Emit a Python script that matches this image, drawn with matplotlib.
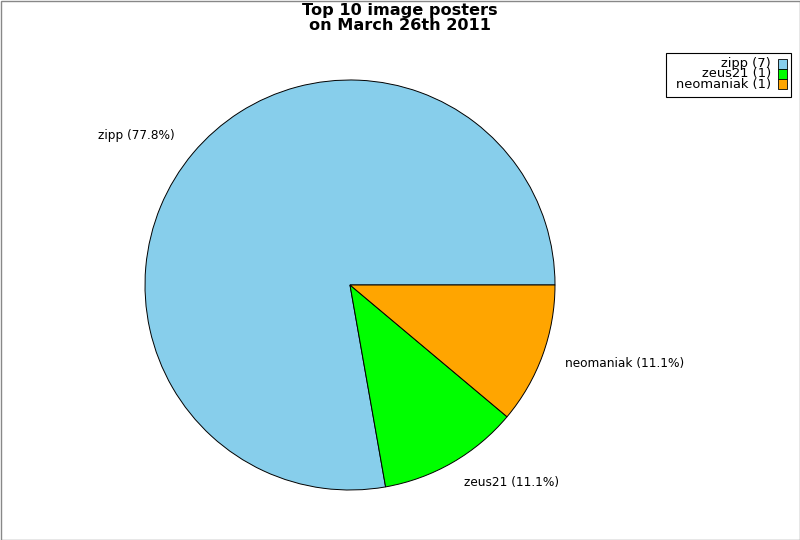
import matplotlib
matplotlib.use("Agg")
import matplotlib.pyplot as plt
from matplotlib.patches import Rectangle

# --- data ---
posters = ["zipp", "zeus21", "neomaniak"]
counts = [7, 1, 1]
colors = ["#87CEEB", "#00FF00", "#FFA500"]
title_lines = ["Top 10 image posters", "on March 26th 2011"]

total = sum(counts)
pie_labels = [f"{n} ({100.0 * c / total:.1f}%)" for n, c in zip(posters, counts)]
legend_labels = [f"{n} ({c})" for n, c in zip(posters, counts)]

W, H = 800, 540
fig = plt.figure(figsize=(W / 100, H / 100), dpi=100)
fig.patch.set_facecolor("white")

# figure frame
fig.add_artist(Rectangle((0.5 / W, 0.5 / H), 1 - 1.0 / W, 1 - 1.0 / H,
                         transform=fig.transFigure, fill=False,
                         edgecolor="#888888", linewidth=1.0))

# pie axes: centre (350, 285) px, radius 205 px
cx, cy, r = 350, 285, 205
ax = fig.add_axes([(cx - r) / W, (H - cy - r) / H, 2 * r / W, 2 * r / H])
wedges, texts = ax.pie(counts, labels=pie_labels, colors=colors, startangle=0,
                       counterclock=True, labeldistance=1.115,
                       wedgeprops=dict(edgecolor="black", linewidth=0.7),
                       textprops=dict(fontsize=8.7, color="black"))
texts[0].set_y(texts[0].get_position()[1] + 0.012)
ax.set_xlim(-1, 1)
ax.set_ylim(-1, 1)
ax.set_aspect("equal")
ax.axis("off")

# title, two lines
for line, yy in zip(title_lines, [11, 25]):
    fig.text(400 / W, 1 - yy / H, line, ha="center", va="center",
             fontsize=11.6, fontweight="bold")

# --- legend (text right-aligned, swatch on the right) ---
lx0, ly0, lx1, ly1 = 666, 53, 791, 97
fig.add_artist(Rectangle((lx0 / W, 1 - ly1 / H), (lx1 - lx0) / W, (ly1 - ly0) / H,
                         transform=fig.transFigure, facecolor="white",
                         edgecolor="black", linewidth=0.8))
fig.text(771 / W, 1 - 74 / H, "\n".join(legend_labels), ha="right", va="center",
         multialignment="right", fontsize=9.4, linespacing=0.78)
row_y = [64, 74, 84]
for col, yy in zip(colors, row_y):
    fig.add_artist(Rectangle((778 / W, 1 - (yy + 4.5) / H), 9 / W, 9 / H,
                             transform=fig.transFigure, facecolor=col,
                             edgecolor="black", linewidth=0.6))

fig.savefig("out.png", dpi=100)
